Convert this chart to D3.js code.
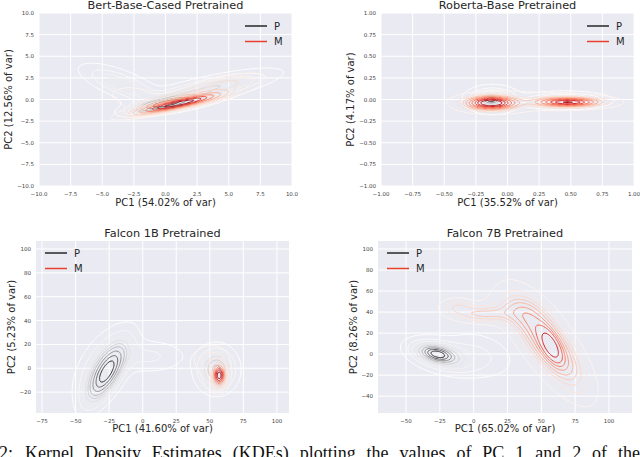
<!DOCTYPE html>
<html>
<head>
<meta charset="utf-8">
<script src="https://cdn.jsdelivr.net/npm/d3@7"></script>
<style>
    body { margin: 0; background: #fff; }
    svg { display: block; }
    text { font-family: "DejaVu Sans", sans-serif; fill: #262626; }
</style>
</head>
<body>
<svg id="fig" width="640" height="457"></svg>
<script>
'use strict';

// Density blobs: [centerX, centerY, sdX, sdY, correlation, weight]
var bertP = [
    [0.0, -0.5, 1.4, 0.55, 0.7, 0.35],
    [-3.5, 1.8, 1.7, 1.2, -0.7, 0.2],
    [4.0, 1.5, 2.5, 1.0, 0.75, 0.3],
    [1.0, 0.0, 2.5, 1.0, 0.5, 0.15]
];
var bertM = [
    [1.0, -0.5, 2.0, 0.7, 0.88, 0.6],
    [2.5, 0.5, 2.5, 1.0, 0.8, 0.25],
    [5.0, 2.0, 1.5, 0.6, 0.5, 0.08],
    [-2.5, 0.3, 1.3, 0.8, -0.2, 0.07]
];
var robertaP = [
    [-0.13, 0.0, 0.04, 0.03, 0, 0.3],
    [-0.12, 0.0, 0.11, 0.08, 0, 0.35],
    [0.45, -0.01, 0.18, 0.05, 0, 0.35]
];
var robertaM = [
    [-0.13, -0.04, 0.13, 0.05, 0, 0.5],
    [0.48, -0.03, 0.17, 0.035, 0, 0.38],
    [0.2, -0.01, 0.32, 0.10, 0, 0.12]
];
var falcon1bP = [
    [-27, -4, 8.5, 14, 0.7, 0.45],
    [-28, 3, 12, 17, 0.55, 0.25],
    [5, 10, 16, 8, 0, 0.08],
    [55, -1, 8, 10, 0, 0.22]
];
var falcon1bM = [
    [57, -6, 2.5, 5, 0, 0.6],
    [55, -2, 6, 10, 0, 0.3],
    [48, 8, 6, 6, 0, 0.1]
];
var falcon7bP = [
    [-27, 0, 8, 5, -0.4, 0.45],
    [-22, -2, 14, 9, -0.4, 0.4],
    [5, 0, 14, 12, -0.3, 0.15]
];
var falcon7bM = [
    [55, 10, 16, 26, -0.75, 0.7],
    [57, 8, 5, 10, -0.6, 0.08],
    [32, 40, 13, 11, -0.3, 0.11],
    [6, 38, 13, 5, 0, 0.07],
    [-12, 45, 8, 5, 0, 0.03]
];

var titles = ['Bert-Base-Cased Pretrained', 'Roberta-Base Pretrained', 'Falcon 1B Pretrained', 'Falcon 7B Pretrained'];
var xLabels = ['PC1 (54.02% of var)', 'PC1 (35.52% of var)', 'PC1 (41.60% of var)', 'PC1 (65.02% of var)'];
var yLabels = ['PC2 (12.56% of var)', 'PC2 (4.17% of var)', 'PC2 (5.23% of var)', 'PC2 (8.26% of var)'];
var seriesNames = ['P', 'M'];

var bertTicks = [-10, -7.5, -5, -2.5, 0, 2.5, 5, 7.5, 10];
var robertaTicks = [-1, -0.75, -0.5, -0.25, 0, 0.25, 0.5, 0.75, 1];
var falcon1bXTicks = [-75, -50, -25, 0, 25, 50, 75, 100];
var falcon1bYTicks = [-20, 0, 20, 40, 60, 80, 100];
var falcon7bXTicks = [-50, -25, 0, 25, 50, 75, 100];
var falcon7bYTicks = [-40, -20, 0, 20, 40, 60, 80, 100];

var captionLead = '2:';
var caption = 'Kernel Density Estimates (KDEs) plotting the values of PC 1 and 2 of the';

// Layout of the four axes (pixels) and their data ranges
var panels = [
    {
        box: [39, 292, 13, 186], xDomain: [-10, 10], yDomain: [-10, 10],
        xTicks: bertTicks, yTicks: bertTicks, fmt: '.1f',
        series: [bertP, bertM], legend: [245, 26], titleY: 9.3, xLabelY: 206, yLabelX: 12
    },
    {
        box: [381, 634, 13, 186], xDomain: [-1, 1], yDomain: [-1, 1],
        xTicks: robertaTicks, yTicks: robertaTicks, fmt: '.2f',
        series: [robertaP, robertaM], legend: [587, 26], titleY: 9.3, xLabelY: 206, yLabelX: 354
    },
    {
        box: [36, 289, 241, 413], xDomain: [-79.5, 109], yDomain: [-37.5, 106.7],
        xTicks: falcon1bXTicks, yTicks: falcon1bYTicks, fmt: 'd',
        series: [falcon1bP, falcon1bM], legend: [45, 253], titleY: 237, xLabelY: 432, yLabelX: 15
    },
    {
        box: [378, 632, 241, 413], xDomain: [-70.7, 117], yDomain: [-56, 107.6],
        xTicks: falcon7bXTicks, yTicks: falcon7bYTicks, fmt: 'd',
        series: [falcon7bP, falcon7bM], legend: [387, 253], titleY: 237, xLabelY: 432, yLabelX: 357
    }
];

var cmaps = [d3.interpolateGreys, d3.interpolateReds];
var legendColors = ['#262626', '#e8402f'];
var NX = 220, NY = 160;

var svg = d3.select('#fig');

function density(blobs, x, y) {
    var s = 0;
    blobs.forEach(function (b) {
        var dx = (x - b[0]) / b[2],
            dy = (y - b[1]) / b[3],
            r = b[4],
            q = (dx * dx - 2 * r * dx * dy + dy * dy) / (1 - r * r);
        s += b[5] * Math.exp(-q / 2) / (b[2] * b[3] * Math.sqrt(1 - r * r));
    });
    return s;
}

// seaborn style iso-proportion levels: 10 levels from 5% to 100%
function isoLevels(values) {
    var sorted = values.slice().sort(function (a, b) { return b - a; }),
        total = d3.sum(sorted),
        cum = 0,
        cums = sorted.map(function (v) { cum += v; return cum / total; });

    return d3.range(10).map(function (k) {
        var p = 0.05 + k * 0.95 / 9,
            idx = d3.bisectLeft(cums, 1 - p);
        return sorted[Math.min(idx, sorted.length - 1)];
    });
}

panels.forEach(function (p, pi) {
    var x = d3.scaleLinear().domain(p.xDomain).range([p.box[0], p.box[1]]),
        y = d3.scaleLinear().domain(p.yDomain).range([p.box[3], p.box[2]]),
        g = svg.append('g'),
        fmt = d3.format(p.fmt),
        cx = (p.box[0] + p.box[1]) / 2,
        cy = (p.box[2] + p.box[3]) / 2,
        xTicks = p.xTicks.filter(function (t) { return t >= p.xDomain[0] && t <= p.xDomain[1]; });

    g.append('rect')
        .attr('x', p.box[0]).attr('y', p.box[2])
        .attr('width', p.box[1] - p.box[0]).attr('height', p.box[3] - p.box[2])
        .attr('fill', '#eaeaf2');

    g.append('clipPath').attr('id', 'clip' + pi)
        .append('rect')
        .attr('x', p.box[0]).attr('y', p.box[2])
        .attr('width', p.box[1] - p.box[0]).attr('height', p.box[3] - p.box[2]);

    // grid
    g.selectAll('.vgrid').data(xTicks)
        .enter().append('line')
        .attr('x1', x).attr('x2', x)
        .attr('y1', p.box[2]).attr('y2', p.box[3])
        .attr('stroke', '#fff').attr('stroke-width', 1);
    g.selectAll('.hgrid').data(p.yTicks)
        .enter().append('line')
        .attr('y1', y).attr('y2', y)
        .attr('x1', p.box[0]).attr('x2', p.box[1])
        .attr('stroke', '#fff').attr('stroke-width', 1);

    // tick labels
    g.selectAll('.xt').data(xTicks)
        .enter().append('text')
        .attr('x', x).attr('y', p.box[3] + 9.5)
        .attr('text-anchor', 'middle')
        .style('font-size', '5.5px').style('fill', '#444')
        .text(fmt);
    g.selectAll('.yt').data(p.yTicks)
        .enter().append('text')
        .attr('x', p.box[0] - 5).attr('y', function (d) { return y(d) + 2; })
        .attr('text-anchor', 'end')
        .style('font-size', '5.5px').style('fill', '#444')
        .text(fmt);

    // KDE contours
    var x0 = p.xDomain[0], x1 = p.xDomain[1], y0 = p.yDomain[0], y1 = p.yDomain[1],
        sx = (x1 - x0) / (NX - 1), sy = (y1 - y0) / (NY - 1),
        proj = d3.geoTransform({
            point: function (gx, gy) {
                this.stream.point(x(x0 + (gx - 0.5) * sx), y(y0 + (gy - 0.5) * sy));
            }
        }),
        path = d3.geoPath(proj),
        plot = g.append('g').attr('clip-path', 'url(#clip' + pi + ')');

    p.series.forEach(function (blobs, si) {
        var values = new Array(NX * NY);
        for (var j = 0; j < NY; j++) {
            for (var i = 0; i < NX; i++) {
                values[j * NX + i] = density(blobs, x0 + i * sx, y0 + j * sy);
            }
        }
        var levels = isoLevels(values),
            lo = levels[0], hi = levels[levels.length - 1],
            drawn = levels.slice(0, levels.length - 1),
            contours = d3.contours().size([NX, NY]).thresholds(drawn)(values);

        plot.selectAll('.c' + si).data(contours)
            .enter().append('path')
            .attr('d', path)
            .attr('fill', 'none')
            .attr('stroke-width', 1)
            .attr('stroke', function (d) { return cmaps[si]((d.value - lo) / (hi - lo)); });
    });

    // legend
    seriesNames.forEach(function (name, si) {
        var ly = p.legend[1] + si * 15.5;
        g.append('line')
            .attr('x1', p.legend[0]).attr('x2', p.legend[0] + 22)
            .attr('y1', ly).attr('y2', ly)
            .attr('stroke', legendColors[si]).attr('stroke-width', 1.5);
        g.append('text')
            .attr('x', p.legend[0] + 29).attr('y', ly + 3.7)
            .style('font-size', '10px')
            .text(name);
    });

    // titles and axis labels
    g.append('text')
        .attr('x', cx).attr('y', p.titleY)
        .attr('text-anchor', 'middle')
        .style('font-size', '11.3px')
        .text(titles[pi]);
    g.append('text')
        .attr('x', cx).attr('y', p.xLabelY)
        .attr('text-anchor', 'middle')
        .style('font-size', '10px')
        .text(xLabels[pi]);
    g.append('text')
        .attr('transform', 'translate(' + p.yLabelX + ',' + cy + ') rotate(-90)')
        .attr('text-anchor', 'middle')
        .style('font-size', '10px')
        .text(yLabels[pi]);
});

// figure caption below the plots (cut by the page edge), justified to the width
var serif = '"Liberation Serif", "Times New Roman", serif';
svg.append('text')
    .attr('x', -1).attr('y', 458.5)
    .style('font-family', serif).style('font-size', '18px').style('fill', '#111')
    .text(captionLead);
var cap = svg.append('text')
    .attr('x', 25).attr('y', 458.5)
    .style('font-family', serif).style('font-size', '18px').style('fill', '#111')
    .text(caption);
var gaps = caption.split(' ').length - 1,
    extra = (615 - cap.node().getComputedTextLength()) / gaps;
cap.style('word-spacing', extra + 'px');
</script>
</body>
</html>
